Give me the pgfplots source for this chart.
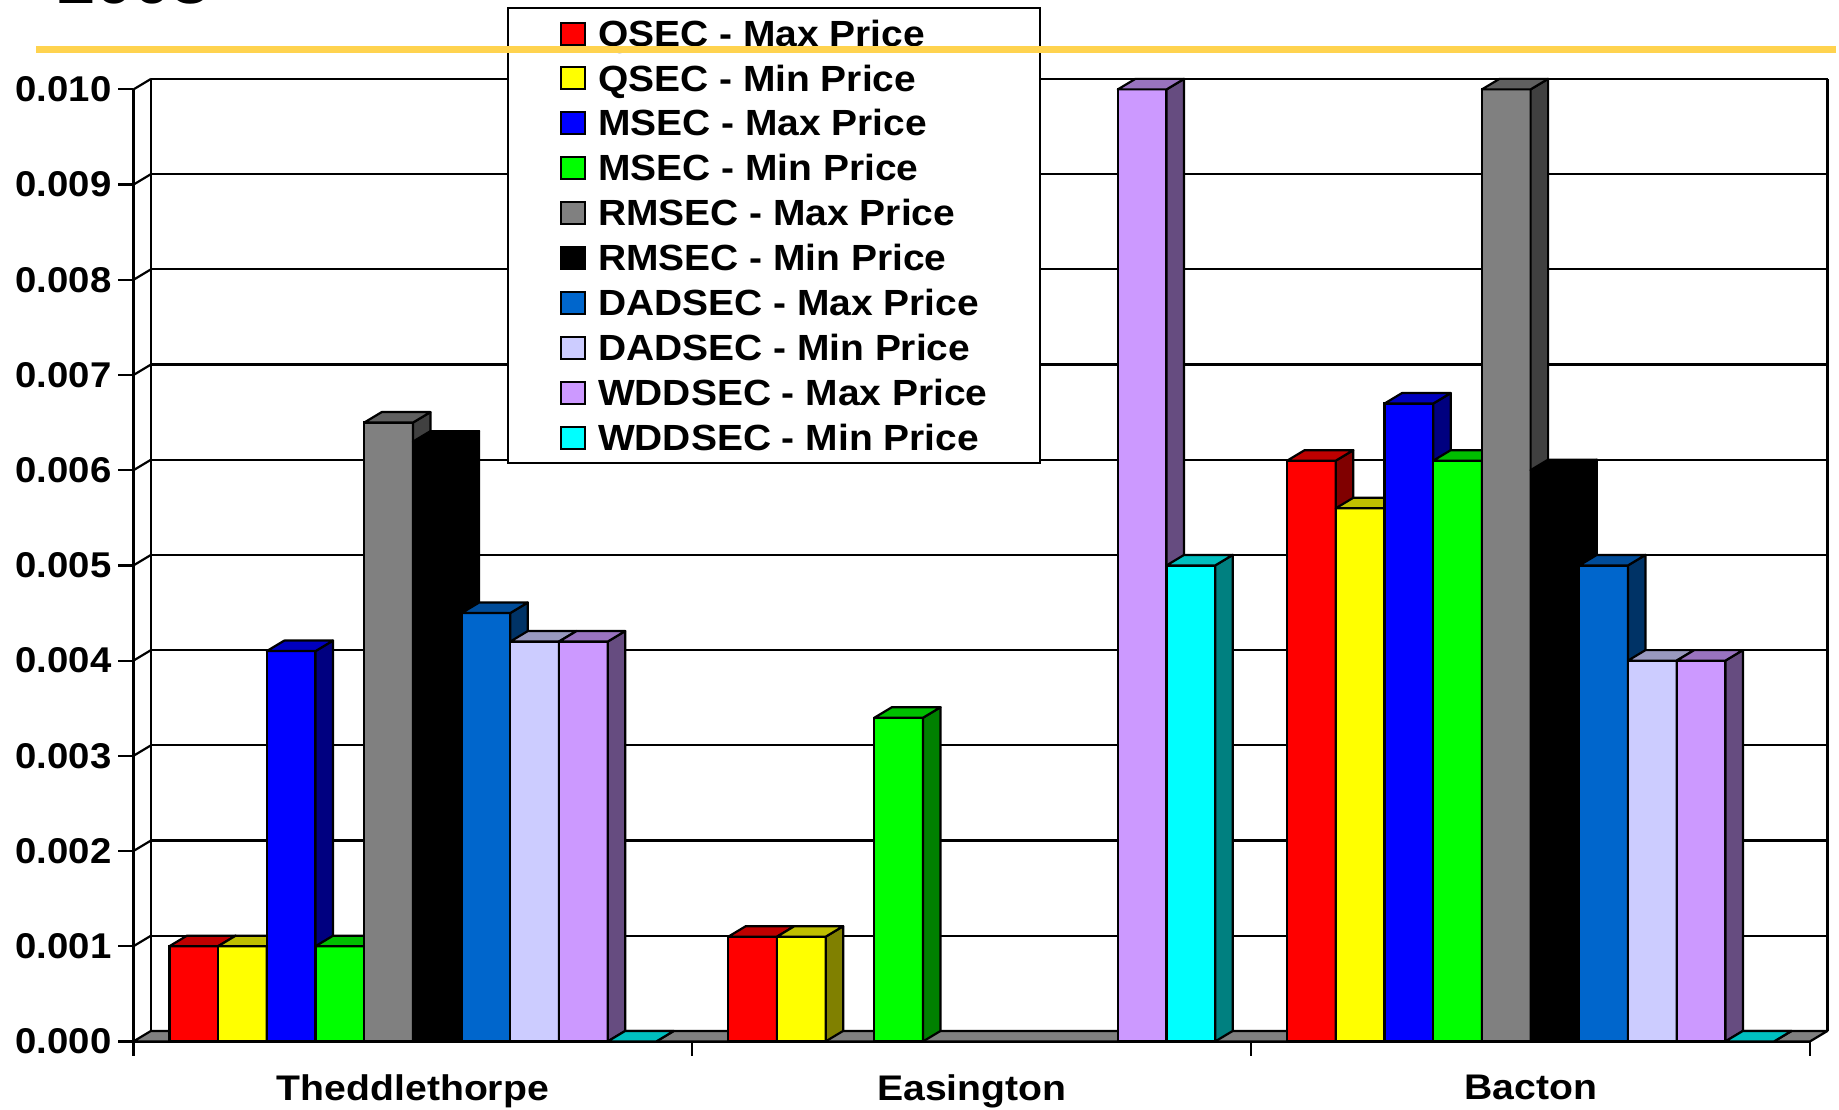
\documentclass[border=0pt]{standalone}
\usepackage{fontspec}
\setmainfont{Liberation Sans}[FakeStretch=1.07]
\newfontfamily\catfont{Liberation Sans}[FakeStretch=1.1]
\usepackage{pgfplots}
\usepackage{pgfplotstable}
\pgfplotsset{compat=1.18}

\definecolor{cQmax}{HTML}{FF0000}
\definecolor{cQmin}{HTML}{FFFF00}
\definecolor{cMmax}{HTML}{0000FF}
\definecolor{cMmin}{HTML}{00FF00}
\definecolor{cRmax}{HTML}{808080}
\definecolor{cRmin}{HTML}{000000}
\definecolor{cDmax}{HTML}{0066CC}
\definecolor{cDmin}{HTML}{CCCCFF}
\definecolor{cWmax}{HTML}{CC99FF}
\definecolor{cWmin}{HTML}{00FFFF}
\definecolor{floorgray}{HTML}{808080}
\definecolor{rulegold}{HTML}{FFD34F}

\pgfdeclareplotmark{nomark}{}

\pgfplotstableread{
cat qmax   qmin   mmax   mmin   rmax   rmin   dmax   dmin   wmax   wmin
0   0.0010 0.0010 0.0041 0.0010 0.0065 0.0063 0.0045 0.0042 0.0042 0.0000
1   0.0011 0.0011 nan    0.0034 nan    nan    nan    nan    0.0100 0.0050
2   0.0061 0.0056 0.0067 0.0061 0.0100 0.0060 0.0050 0.0040 0.0040 0.0000
}\prices

\pgfplotsset{
  front/.style n args={2}{ybar, bar width=24.35pt, bar shift=#1pt, fill=#2, draw=black, line width=1.1pt,
     legend image code/.code={\draw[##1, line width=1pt] (0pt,-5.5pt) rectangle (12pt,5.5pt);}},
  faces/.style n args={4}{forget plot, only marks, mark=nomark, scatter, point meta=y,
     scatter/@pre marker code/.code={%
        \pgfmathsetmacro\hh{\pgfplotspointmetatransformed*0.476}%
        \pgfmathsetmacro\hb{5.25-\hh}%
        \pgfmathsetmacro\xl{#1-12.175}%
        \pgfmathsetmacro\xr{#1+12.175}%
        \pgfmathsetmacro\xrr{#1+20.925}%
        \pgfmathsetmacro\xlb{#1-3.425}%
        \filldraw[fill=#2, draw=black, line width=1.1pt, line join=round]
          (\xl pt,-\hh pt) rectangle (\xr pt,0pt);
        \filldraw[fill=#4, draw=black, line width=1.1pt, line join=round]
          (\xr pt,0pt) -- (\xrr pt,5.25pt) -- (\xrr pt,\hb pt) -- (\xr pt,-\hh pt) -- cycle;
        \filldraw[fill=#3, draw=black, line width=1.1pt, line join=round]
          (\xl pt,0pt) -- (\xr pt,0pt) -- (\xrr pt,5.25pt) -- (\xlb pt,5.25pt) -- cycle;
        },
     scatter/@post marker code/.code={}},
}

\newcommand\series[4]{%
  \addplot[front={#2}{#3}] table[x=cat,y=#1]{\prices};
  \addlegendentry{#4}
  \addplot[faces={#2}{#3}{#3!75!black}{#3!50!black}] table[x=cat,y=#1]{\prices};
}

\begin{document}
\begin{tikzpicture}
\useasboundingbox (0,0) rectangle (919.5pt,554.5pt);
\clip (0,0) rectangle (919.5pt,554.5pt);
\begin{axis}[
  at={(66.75pt,33.8pt)}, anchor=south west,
  scale only axis, width=838.25pt, height=476pt,
  xmin=-0.5, xmax=2.5, ymin=0, ymax=0.01,
  clip=false,
  axis x line*=bottom, axis y line*=left,
  axis line style={black, line width=1.1pt},
  xtick={0,1,2}, xticklabels={Theddlethorpe,Easington,Bacton},
  xtick style={draw=none},
  ytick={0,0.001,0.002,0.003,0.004,0.005,0.006,0.007,0.008,0.009,0.010},
  scaled y ticks=false,
  /pgf/number format/fixed, /pgf/number format/fixed zerofill, /pgf/number format/precision=3,
  /pgf/number format/assume math mode=true,
  tick align=outside, major tick length=7.5pt,
  ytick style={black, line width=1.1pt},
  ymajorgrids, major grid style={black, line width=1.1pt, xshift=8.75pt, yshift=5.25pt},
  ticklabel style={font=\bfseries\fontsize{17.9}{20}\selectfont},
  xticklabel style={font=\catfont\bfseries\fontsize{17.8}{20}\selectfont, inner sep=0pt, anchor=north, yshift=-9pt},
  point meta min=0, point meta max=0.01,
  legend cell align=left,
  legend style={at={(axis description cs:0.22278,1.08624)}, anchor=north west, draw=black, line width=1.1pt, fill=white,
     font=\bfseries\fontsize{18.2}{21}\selectfont, inner xsep=26pt, inner ysep=6.3pt, row sep=9.85pt, column sep=6pt,
     nodes={inner sep=0pt, text height=12.6pt, text depth=0pt}},
]
\filldraw[fill=floorgray, draw=black, line width=1.1pt, line join=round]
  (axis cs:-0.5,0) -- (axis cs:2.5,0) -- ++(8.75pt,5.25pt) -- ++(-838.25pt,0pt) -- cycle;
\draw[black, line width=1.1pt] (axis cs:-0.5,0) ++(8.75pt,5.25pt) -- ++(0pt,476pt);
\draw[black, line width=1.1pt] (axis cs:2.5,0) ++(8.75pt,5.25pt) -- ++(0pt,476pt);
\pgfplotsinvokeforeach{0.001,0.002,0.003,0.004,0.005,0.006,0.007,0.008,0.009,0.010}{
  \draw[black, line width=1.1pt] (axis cs:-0.5,#1) -- ++(8.75pt,5.25pt);
}
\pgfplotsinvokeforeach{-0.5,0.5,1.5,2.5}{
  \draw[black, line width=1.1pt] (axis cs:#1,0) -- ++(0pt,-7.5pt);
}
\series{qmax}{-109.575}{cQmax}{QSEC - Max Price}
\series{qmin}{-85.225}{cQmin}{QSEC - Min Price}
\series{mmax}{-60.875}{cMmax}{MSEC - Max Price}
\series{mmin}{-36.525}{cMmin}{MSEC - Min Price}
\series{rmax}{-12.175}{cRmax}{RMSEC - Max Price}
\series{rmin}{12.175}{cRmin}{RMSEC - Min Price}
\series{dmax}{36.525}{cDmax}{DADSEC - Max Price}
\series{dmin}{60.875}{cDmin}{DADSEC - Min Price}
\series{wmax}{85.225}{cWmax}{WDDSEC - Max Price}
\series{wmin}{109.575}{cWmin}{WDDSEC - Min Price}
\end{axis}
\fill[rulegold] (17.8pt,527.8pt) rectangle (917.75pt,531.5pt);
\node[anchor=base west, inner sep=0pt, font=\bfseries\fontsize{32}{36}\selectfont] at (28.3pt,552.75pt) {2003};
\end{tikzpicture}
\end{document}
